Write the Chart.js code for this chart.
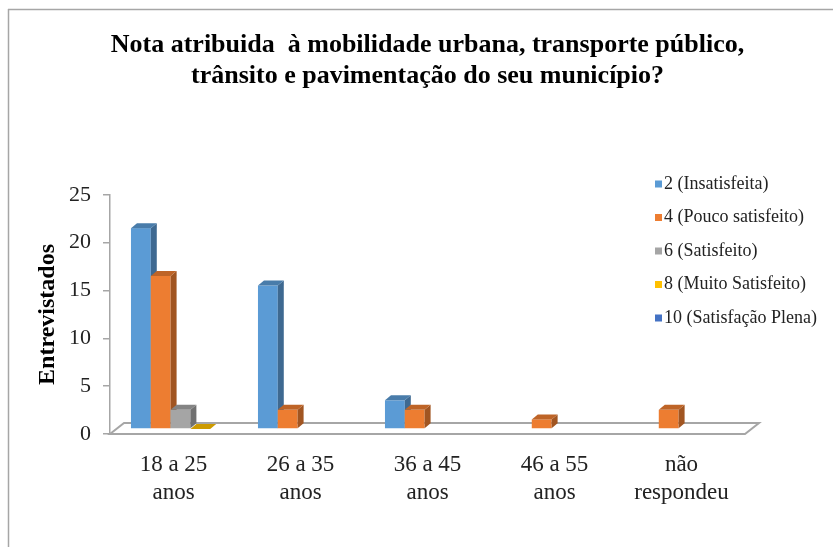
<!DOCTYPE html>
<html>
<head>
<meta charset="utf-8">
<script src="https://cdn.jsdelivr.net/npm/chart.js@4.4.1/dist/chart.umd.min.js"></script>
<style>
  html, body { margin: 0; padding: 0; background: #fff; }
  #wrap { width: 833px; height: 547px; }
</style>
</head>
<body>
<div id="wrap"><canvas id="chart" width="833" height="547"></canvas></div>
<script>
const titleLines = ['Nota atribuida  à mobilidade urbana, transporte público,', 'trânsito e pavimentação do seu município?'];
const categories = [['18 a 25', 'anos'], ['26 a 35', 'anos'], ['36 a 45', 'anos'], ['46 a 55', 'anos'], ['não', 'respondeu']];
const seriesNames = ['2 (Insatisfeita)', '4 (Pouco satisfeito)', '6 (Satisfeito)', '8 (Muito Satisfeito)', '10 (Satisfação Plena)'];
const insatisfeita = [21, 15, 3, null, null];
const poucoSatisfeito = [16, 2, 2, 1, 2];
const satisfeito = [2, null, null, null, null];
const muitoSatisfeito = [0, null, null, null, null];
const satisfacaoPlena = [null, null, null, null, null];
const yTicks = [0, 5, 10, 15, 20, 25];
const colors = ['#5B9BD5', '#ED7D31', '#A5A5A5', '#FFC000', '#4472C4'];

const serif = "'Liberation Serif', 'Times New Roman', serif";

function shade(hex, f) {
    const n = parseInt(hex.slice(1), 16);
    const r = Math.round(((n >> 16) & 255) * f);
    const g = Math.round(((n >> 8) & 255) * f);
    const b = Math.round((n & 255) * f);
    return 'rgb(' + r + ',' + g + ',' + b + ')';
}

// white background + frame lines like the cropped Excel picture
const framePlugin = {
    id: 'frame',
    beforeDraw(chart) {
        const ctx = chart.ctx;
        ctx.save();
        ctx.fillStyle = '#fff';
        ctx.fillRect(0, 0, chart.width, chart.height);
        ctx.strokeStyle = '#a6a6a6';
        ctx.lineWidth = 1.5;
        ctx.beginPath();
        ctx.moveTo(8, 9.5);
        ctx.lineTo(chart.width, 9.5);
        ctx.moveTo(8.5, 9);
        ctx.lineTo(8.5, chart.height);
        ctx.stroke();
        ctx.restore();
    }
};

// pseudo 3D floor and columns
const DEPTH_X = 14, DEPTH_Y = 11;   // floor depth
const BAR_DX = 6, BAR_DY = 5;       // column depth
const bars3dPlugin = {
    id: 'bars3d',
    beforeDatasetsDraw(chart) {
        const ctx = chart.ctx;
        const ca = chart.chartArea;
        ctx.save();

        // floor
        ctx.strokeStyle = '#a6a6a6';
        ctx.lineWidth = 2;
        ctx.fillStyle = '#fff';
        ctx.beginPath();
        ctx.moveTo(ca.left, ca.bottom);
        ctx.lineTo(ca.right, ca.bottom);
        ctx.lineTo(ca.right + DEPTH_X, ca.bottom - DEPTH_Y);
        ctx.lineTo(ca.left + DEPTH_X, ca.bottom - DEPTH_Y);
        ctx.closePath();
        ctx.fill();
        ctx.stroke();

        // columns sit in the middle of the floor depth
        const sx = DEPTH_X / 2, sy = -5;
        chart.data.datasets.forEach((ds, i) => {
            const meta = chart.getDatasetMeta(i);
            const base = ds.backgroundColor;
            meta.data.forEach((bar, j) => {
                if (ds.data[j] === null || ds.data[j] === undefined) return;
                const p = bar.getProps(['x', 'y', 'base', 'width'], true);
                const l = p.x - p.width / 2 + sx;
                const r = p.x + p.width / 2 + sx;
                const top = Math.min(p.y, p.base) + sy;
                const bot = p.base + sy;

                // front
                ctx.fillStyle = base;
                ctx.fillRect(l, top, r - l, bot - top);
                // side
                ctx.fillStyle = shade(base, 0.68);
                ctx.beginPath();
                ctx.moveTo(r, top);
                ctx.lineTo(r + BAR_DX, top - BAR_DY);
                ctx.lineTo(r + BAR_DX, bot - BAR_DY);
                ctx.lineTo(r, bot);
                ctx.closePath();
                ctx.fill();
                // top
                ctx.fillStyle = shade(base, 0.8);
                ctx.beginPath();
                ctx.moveTo(l, top);
                ctx.lineTo(l + BAR_DX, top - BAR_DY);
                ctx.lineTo(r + BAR_DX, top - BAR_DY);
                ctx.lineTo(r, top);
                ctx.closePath();
                ctx.fill();
            });
        });
        ctx.restore();
        return false;
    }
};

// legend drawn over the plot area, as in the original
const legendPlugin = {
    id: 'sideLegend',
    afterDraw(chart) {
        const ctx = chart.ctx;
        ctx.save();
        ctx.font = '18px ' + serif;
        ctx.textBaseline = 'middle';
        ctx.textAlign = 'left';
        chart.data.datasets.forEach((ds, i) => {
            const cy = 184 + i * 33.5;
            ctx.fillStyle = ds.backgroundColor;
            ctx.fillRect(655, cy - 3.5, 7, 7);
            ctx.fillStyle = '#222';
            ctx.fillText(ds.label, 664, cy);
        });
        ctx.restore();
    }
};

const seriesData = [insatisfeita, poucoSatisfeito, satisfeito, muitoSatisfeito, satisfacaoPlena];

new Chart(document.getElementById('chart'), {
    type: 'bar',
    data: {
        labels: categories,
        datasets: seriesData.map((d, i) => ({
            label: seriesNames[i],
            data: d,
            backgroundColor: colors[i],
            categoryPercentage: 0.78,
            barPercentage: 1.0
        }))
    },
    options: {
        responsive: false,
        animation: false,
        events: [],
        layout: {
            padding: { top: 10, left: 28, right: 88, bottom: 0 }
        },
        plugins: {
            legend: { display: false },
            tooltip: { enabled: false },
            title: {
                display: true,
                fullSize: false,
                text: titleLines,
                color: '#000',
                font: { family: serif, size: 26, weight: 'bold', lineHeight: 1.19 },
                padding: { top: 19.5, bottom: 103.5 }
            }
        },
        scales: {
            x: {
                grid: { display: false, drawTicks: false },
                border: { display: false },
                ticks: {
                    color: '#222',
                    font: { family: serif, size: 23, lineHeight: 1.22 },
                    padding: 17,
                    maxRotation: 0,
                    autoSkip: false
                },
                afterFit(scale) { scale.height = 113; }
            },
            y: {
                min: 0,
                max: 25,
                afterBuildTicks(scale) { scale.ticks = yTicks.map(v => ({ value: v })); },
                grid: { drawOnChartArea: false, tickLength: 7, color: '#a6a6a6', lineWidth: 1.5 },
                border: { display: true, color: '#a6a6a6', width: 1.5 },
                ticks: {
                    color: '#222',
                    font: { family: serif, size: 22 },
                    padding: 12
                },
                title: {
                    display: true,
                    text: 'Entrevistados',
                    color: '#000',
                    font: { family: serif, size: 24, weight: 'bold' },
                    padding: { top: 5, bottom: 0 }
                },
                afterFit(scale) { scale.width = 82; }
            }
        }
    },
    plugins: [framePlugin, bars3dPlugin, legendPlugin]
});
</script>
</body>
</html>
